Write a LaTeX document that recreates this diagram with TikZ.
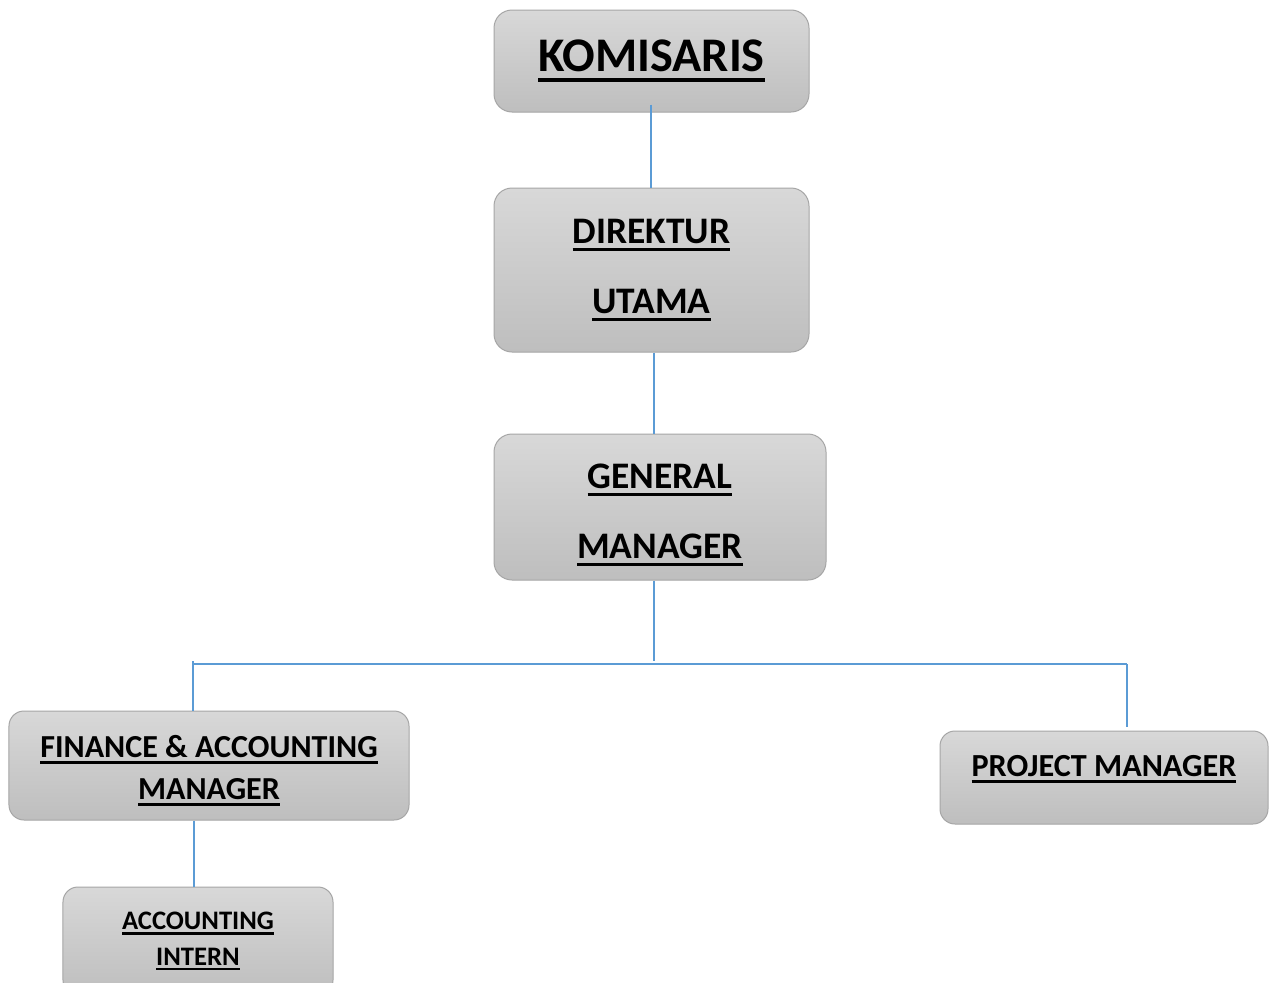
\documentclass[tikz,border=0pt]{standalone}
\usepackage{fontspec}
\usepackage{tikz}
\usetikzlibrary{shadings}
\newfontfamily\orgfont{Carlito}
\definecolor{boxtop}{HTML}{D8D8D8}
\definecolor{boxbot}{HTML}{BEBEBE}
\definecolor{boxline}{HTML}{A6A6A6}
\definecolor{linkblue}{HTML}{5B9BD5}
\newcommand\undl[1]{\leavevmode\vtop{\hbox{#1}\kern0.11em\hrule height 0.085em}}
\tikzstyle{post} = [rectangle, rounded corners=18bp, draw=boxline, line width=1bp, top color=boxtop, bottom color=boxbot, inner sep=0pt, align=center]
\tikzstyle{link} = [draw=linkblue, line width=1.2bp]

\begin{document}
\begin{tikzpicture}[x=1bp,y=-1bp]
\clip (0,0) rectangle (1269,983);
\fill[white] (0,0) rectangle (1269,983);

\node (kom) [post, minimum width=315bp, minimum height=102bp, font=\orgfont\bfseries\fontsize{48.5}{55}\selectfont] at (651.5,61) {\undl{KOMISARIS}};
\node (dir) [post, minimum width=315bp, minimum height=164bp, font=\orgfont\bfseries\fontsize{37.6}{45}\selectfont] at (651.5,270) {\undl{DIREKTUR}\\[25bp]\undl{UTAMA}};
\node (gm) [post, minimum width=332bp, minimum height=146bp, font=\orgfont\bfseries\fontsize{37.6}{45}\selectfont] at (660,507) {\rule{0pt}{40bp}\undl{GENERAL}\\[25bp]\undl{MANAGER}};
\node (fin) [post, rounded corners=15bp, minimum width=400bp, minimum height=109bp, font=\orgfont\bfseries\fontsize{32.2}{42}\selectfont] at (209,765.5) {\rule{0pt}{32bp}\undl{FINANCE \& ACCOUNTING}\\\undl{MANAGER}};
\node (pm) [post, rounded corners=15bp, minimum width=328bp, minimum height=93bp, font=\orgfont\bfseries\fontsize{32.3}{40}\selectfont] at (1104,777.5) {\rule[-24bp]{0pt}{24bp}\undl{PROJECT MANAGER}};
\node (intern) [post, rounded corners=15bp, minimum width=270bp, minimum height=108bp, font=\orgfont\bfseries\fontsize{26.8}{36}\selectfont] at (198,941) {\undl{ACCOUNTING}\\\undl{INTERN}};

\coordinate (busl) at (193,664);
\coordinate (busr) at (1127,664);

\begin{scope}[color=linkblue]
\draw [link] ([xshift=-0.5bp,yshift=8bp]kom.south) -- ([xshift=-0.5bp]dir.north);
\draw [link] ([xshift=2.5bp]dir.south) -- ([xshift=2.5bp]dir.south |- gm.north);
\draw [link] ([xshift=-6bp]gm.south) -- ([xshift=-6bp,yshift=3bp]gm.south |- busl);
\draw [link] (busl) -- (busr);
\draw [link] ([yshift=3bp]busl) -- (busl |- fin.north);
\draw [link] (busr) -- ([yshift=4bp]busr |- pm.north);
\draw [link] ([xshift=1bp]busl |- fin.south) -- ([xshift=1bp]busl |- intern.north);
\end{scope}

\end{tikzpicture}
\end{document}
